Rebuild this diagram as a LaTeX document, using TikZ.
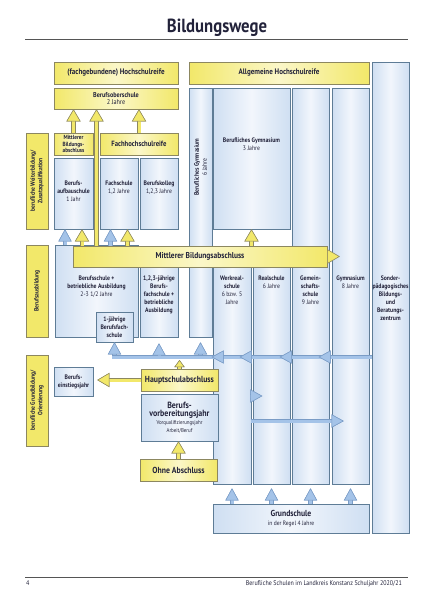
\documentclass[tikz,border=0pt]{standalone}
\usepackage{fontspec}
\setmainfont{PT Sans}[FakeStretch=0.88]
\usetikzlibrary{arrows.meta, positioning, calc}
\definecolor{yelF}{HTML}{F2E86A}
\definecolor{yelL}{HTML}{FBF7C8}
\definecolor{yelD}{HTML}{8C8760}
\definecolor{bluF}{HTML}{CFDFF2}
\definecolor{bluL}{HTML}{F2F6FC}
\definecolor{bluD}{HTML}{5E7C96}
\definecolor{bluA}{HTML}{A4C3E8}
\definecolor{bluAD}{HTML}{7A9CC6}
\definecolor{ink}{HTML}{22223A}
\definecolor{ruleC}{HTML}{555555}
\tikzset{
  yelBox/.style = {rectangle, draw=yelD, line width=0.6pt, left color=yelF,
    right color=yelF, middle color=yelL, text=ink, align=center, inner sep=1pt,
    font=\bfseries\fontsize{8.8}{10}\selectfont},
  yelSmall/.style = {yelBox, font=\bfseries\fontsize{6}{6.5}\selectfont},
  sideBox/.style = {rectangle, draw=yelD, line width=0.6pt, fill=yelF, text=ink,
    align=center, rotate=90, inner sep=1pt, font=\bfseries\fontsize{6.3}{7.5}\selectfont},
  bluBox/.style = {rectangle, draw=bluD, line width=0.6pt, left color=bluF,
    right color=bluF, middle color=bluL, text=ink, align=center, inner sep=1pt,
    font=\bfseries\fontsize{6.5}{8.2}\selectfont},
  colTxt/.style = {anchor=north, text=ink, align=center, inner sep=0pt,
    font=\bfseries\fontsize{6.5}{8}\selectfont},
  footTxt/.style = {text=ink, inner sep=0pt, font=\fontsize{6.8}{8}\selectfont},
  yArrow/.style = {draw=yelF, line width=3pt, preaction={draw=yelD, line width=4.2pt},
    -{Triangle[length=12pt, width=14pt, line width=0.5pt, color=yelD, fill=yelF]}},
  yArrowS/.style = {draw=yelF, line width=3pt, preaction={draw=yelD, line width=4.2pt},
    -{Triangle[length=7pt, width=10pt, line width=0.5pt, color=yelD, fill=yelF]}},
  bArrow/.style = {draw=bluA, line width=3pt, preaction={draw=bluAD, line width=4.2pt},
    -{Triangle[length=12pt, width=13pt, line width=0.5pt, color=bluAD, fill=bluA]}},
  bStem/.style = {draw=bluA, line width=3pt, preaction={draw=bluAD, line width=4.4pt}},
}
\begin{document}
\begin{tikzpicture}[x=1pt, y=-1pt]
\useasboundingbox (0,0) rectangle (437,600);

% title, rules and footer
\node[text=ink, anchor=base, font=\bfseries\fontsize{19}{22}\selectfont] (title) at (217,32) {Bildungswege};
\coordinate (ruleL) at (25,39);
\coordinate (ruleR) at (408,39);
\coordinate (footL) at (25,577);
\coordinate (footR) at (408,577);
\draw[ruleC, line width=0.6pt] (ruleL) -- (ruleR);
\draw[ruleC, line width=0.5pt] (footL) -- (footR);
\node[footTxt, anchor=base west] (pageNo) at (26,585) {4};
\node[footTxt, anchor=base east] (footer) at (402,585) {Berufliche Schulen im Landkreis Konstanz Schuljahr 2020/21};

% columns
\node[bluBox, minimum width=37pt, minimum height=471pt] (son) at (390.5,297.5) {};
\node[bluBox, minimum width=23pt, minimum height=249pt] (bg6) at (200.5,212.5) {};
\node[bluBox, minimum width=77pt, minimum height=141pt] (bg3) at (251.5,158.5) {};
\node[bluBox, minimum width=37pt, minimum height=396pt] (gms) at (310.5,286) {};
\node[bluBox, minimum width=37pt, minimum height=396pt] (gym) at (350.5,286) {};
\node[bluBox, minimum width=38pt, minimum height=237pt] (wrs) at (232,365.5) {};
\node[bluBox, minimum width=37pt, minimum height=237pt] (rs) at (271.5,365.5) {};
\node[bluBox, minimum width=156pt, minimum height=29pt] (gs) at (291,518.5)
  {\fontsize{8.7}{10}\selectfont Grundschule\\\mdseries\fontsize{6.3}{8}\selectfont in der Regel 4 Jahre};

% left blocks
\node[bluBox, minimum width=39pt, minimum height=71pt] (bas) at (73.5,193.5) {};
\node[bluBox, minimum width=38pt, minimum height=71pt] (fs) at (119,193.5) {};
\node[bluBox, minimum width=38pt, minimum height=71pt] (bk) at (159,193.5) {};
\node[bluBox, minimum width=83pt, minimum height=92pt] (bsa) at (96.5,291) {};
\node[bluBox, minimum width=38pt, minimum height=91pt] (bfs123) at (159,291.5) {};
\node[bluBox, minimum width=37pt, minimum height=30pt] (bfs1) at (114.5,327) {1-jährige\\Berufsfach-\\schule};
\node[bluBox, minimum width=39pt, minimum height=29pt] (bej) at (73.5,381.5) {Berufs-\\einstiegsjahr};
\node[bluBox, minimum width=77pt, minimum height=47pt] (bvj) at (179.5,417.5)
  {\fontsize{9}{9}\selectfont Berufs-\\\fontsize{9}{9.5}\selectfont vorbereitungsjahr\\\mdseries\fontsize{5.6}{7}\selectfont Vorqualifizierungsjahr\\\mdseries\fontsize{5.6}{7}\selectfont Arbeit/Beruf};

% yellow boxes
\node[yelBox, minimum width=124pt, minimum height=22pt, font=\bfseries\fontsize{8}{9}\selectfont] (fhr) at (116,73) {(fachgebundene) Hochschulreife};
\node[yelBox, minimum width=180pt, minimum height=22pt, font=\bfseries\fontsize{8}{9}\selectfont] (ahr) at (279,73) {Allgemeine Hochschulreife};
\node[yelSmall, minimum width=124pt, minimum height=21pt, font=\bfseries\fontsize{7}{7.5}\selectfont] (bos) at (116,98.5) {Berufsoberschule\\\mdseries 2 Jahre};
\node[yelSmall, minimum width=39pt, minimum height=22pt] (mba) at (73.5,144) {Mittlerer\\Bildungs-\\abschluss};
\node[yelBox, minimum width=78pt, minimum height=22pt, font=\bfseries\fontsize{7.6}{9}\selectfont] (fhs) at (139,144) {Fachhochschulreife};
\node[yelBox, minimum width=77pt, minimum height=22pt] (hsa) at (179.5,380) {Hauptschulabschluss};
\node[yelBox, minimum width=77pt, minimum height=22pt] (oa) at (178.5,470) {Ohne Abschluss};
\node[sideBox, minimum width=96pt, minimum height=22pt] (sideA) at (37,181) {berufliche Weiterbildung/\\Zusatzqualifikation};
\node[sideBox, minimum width=92pt, minimum height=22pt] (sideB) at (37,291) {Berufsausbildung};
\node[sideBox, minimum width=91pt, minimum height=22pt] (sideC) at (37,400.5) {berufliche Grundbildung/\\Orientierung};

% texts in the columns
\coordinate (rowT1) at (0,181);
\coordinate (rowT2) at (0,276);
\node[colTxt, rotate=90, anchor=center] (bg6T) at (200.5,167) {Berufliches Gymnasium\\\mdseries 6 Jahre};
\node[colTxt] (bg3T) at (bg3 |- 0,138) {Berufliches Gymnasium\\\mdseries 3 Jahre};
\node[colTxt] (basT) at (bas |- rowT1) {Berufs-\\aufbauschule\\\mdseries 1 Jahr};
\node[colTxt] (fsT) at (fs |- rowT1) {Fachschule\\\mdseries 1,2 Jahre};
\node[colTxt] (bkT) at (bk |- rowT1) {Berufskolleg\\\mdseries 1,2,3 Jahre};
\node[colTxt] (bsaT) at (bsa |- rowT2) {Berufsschule +\\betriebliche Ausbildung\\\mdseries 2-3 1/2 Jahre};
\node[colTxt] (bfs123T) at (bfs123 |- rowT2) {1,2,3-jährige\\Berufs-\\fachschule +\\betriebliche\\Ausbildung};
\node[colTxt] (wrsT) at (wrs |- rowT2) {Werkreal-\\schule\\\mdseries 6 bzw. 5\\\mdseries Jahre};
\node[colTxt] (rsT) at (rs |- rowT2) {Realschule\\\mdseries 6 Jahre};
\node[colTxt] (gmsT) at (gms |- rowT2) {Gemein-\\schafts-\\schule\\\mdseries 9 Jahre};
\node[colTxt] (gymT) at (gym |- rowT2) {Gymnasium\\\mdseries 8 Jahre};
\node[colTxt] (sonT) at (son |- rowT2) {Sonder-\\pädagogisches\\Bildungs-\\und\\Beratungs-\\zentrum};

% blue band and arrows
\coordinate (band) at (0,357);
\coordinate (bandL) at (112,357);
\coordinate (rowA) at (0,396);
\coordinate (rowB) at (0,421);
\draw[bStem] (son.west |- band) -- (bandL);
\draw[bArrow] (gym.west |- band) -- ++(-13,0);
\draw[bArrow] (gms.west |- band) -- ++(-12,0);
\draw[bArrow] (rs.west |- band) -- ++(-13,0);
\draw[bArrow] ([xshift=11pt]wrs.west |- band) -- ++(-12,0);
\draw[bArrow, shorten <=2pt] (bfs1.south |- band) -- (bfs1.south);
\draw[bArrow, shorten <=2pt, shorten >=6pt] (bfs123.south |- band) -- (bfs123.south);
\draw[bArrow, shorten <=2pt, shorten >=5pt] (bg6.south |- band) -- (bg6.south);
\draw[bArrow] (wrs.east |- rowA) -- ++(11,0);
\draw[bArrow] (wrs.east |- rowB) -- ([xshift=12pt]gym.west |- rowB);
\draw[bArrow, shorten >=4pt] (wrs.south |- gs.north) -- (wrs.south);
\draw[bArrow, shorten >=4pt] (rs.south |- gs.north) -- (rs.south);
\draw[bArrow, shorten >=4pt] (gms.south |- gs.north) -- (gms.south);
\draw[bArrow, shorten >=4pt] (gym.south |- gs.north) -- (gym.south);
\draw[bArrow] ([xshift=-8.5pt]bas.south |- bsa.north) -- ([xshift=-8.5pt]bas.south);

% Mittlerer Bildungsabschluss bar
\node[yelBox, minimum width=254pt, minimum height=21pt, font=\bfseries\fontsize{8.5}{10}\selectfont] (mbar) at (200,256.5) {Mittlerer Bildungsabschluss};
\filldraw[draw=yelD, fill=yelF, line width=0.6pt] ([yshift=7pt]mbar.east) -- ([xshift=12pt]mbar.east) -- ([yshift=-7pt]mbar.east) -- cycle;
\draw[bArrow] ([xshift=-8.5pt]fs.south |- mbar.north) -- ([xshift=-8.5pt]fs.south);

% yellow arrows
\coordinate (gap) at ($(bas.east)!.5!(fs.west)$);
\draw[yArrow] (mba.north) -- (mba.north |- bos.south);
\draw[yArrow] (gap |- mbar.north) -- (gap |- bos.south);
\draw[yArrow] (fhs.north) -- (fhs.north |- bos.south);
\draw[yArrow] ([xshift=8.5pt]bas.south |- mbar.north) -- ([xshift=8.5pt]bas.south);
\draw[yArrow] ([xshift=8.5pt]fs.south |- mbar.north) -- ([xshift=8.5pt]fs.south);
\draw[yArrow] (bg3.south |- mbar.north) -- (bg3.south);
\draw[yArrow, shorten >=4pt] (hsa.west) -- (hsa.west -| bej.east);
\draw[yArrowS, shorten >=3pt] (hsa.north) -- (hsa.north |- band);
\draw[yArrow] (oa.north) -- (oa.north |- bvj.south);

\end{tikzpicture}
\end{document}
